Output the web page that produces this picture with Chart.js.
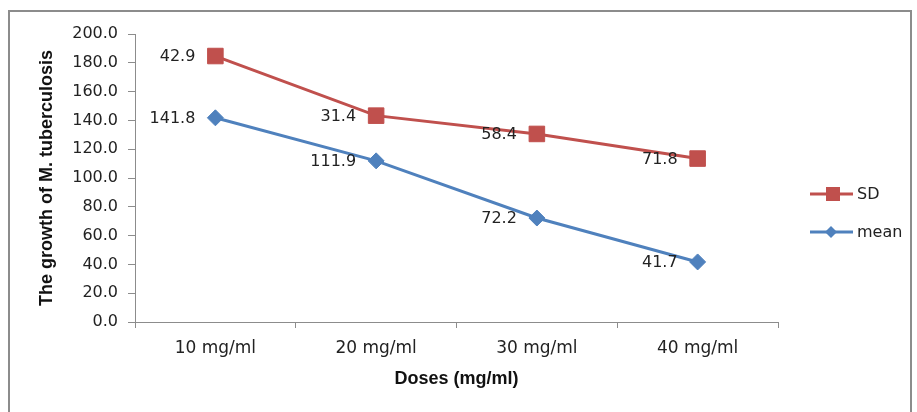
<!DOCTYPE html>
<html>
<head>
<meta charset="utf-8">
<script src="https://cdn.jsdelivr.net/npm/chart.js@4.4.1/dist/chart.umd.min.js"></script>
<style>
  html, body { margin: 0; padding: 0; background: #fff; }
  #wrap { position: relative; width: 917px; height: 412px; overflow: hidden; }
  #frame { position: absolute; left: 8px; top: 10px; width: 904px; height: 420px; border: 2px solid #8c8c8c; box-sizing: border-box; }
  canvas { position: absolute; left: 0; top: 0; }
</style>
</head>
<body>
<div id="wrap">
  <div id="frame"></div>
  <canvas id="chart" width="917" height="412"></canvas>
</div>
<script>
// 用量カテゴリと各系列の値
const doses = ['10 mg/ml', '20 mg/ml', '30 mg/ml', '40 mg/ml'];
const meanValues = [141.8, 111.9, 72.2, 41.7];
const sdValues = [42.9, 31.4, 58.4, 71.8];
const yTicks = [0, 20, 40, 60, 80, 100, 120, 140, 160, 180, 200];

const RED = '#C0504D';
const BLUE = '#4F81BD';
const NUM_FONT = 'DejaVu Sans, Verdana, sans-serif';
const TITLE_FONT = 'Liberation Sans, Arial, sans-serif';

// データラベル（点の左側）と凡例を描くプラグイン
const labelPlugin = {
    id: 'labels',
    afterDatasetsDraw(chart) {
        const ctx = chart.ctx;
        ctx.save();
        ctx.font = '16px ' + NUM_FONT;
        ctx.fillStyle = '#222';
        ctx.textAlign = 'right';
        ctx.textBaseline = 'middle';
        chart.data.datasets.forEach((ds, i) => {
            const meta = chart.getDatasetMeta(i);
            meta.data.forEach((pt, j) => {
                ctx.fillText(ds.data[j].toFixed(1), pt.x - 20, pt.y + 1);
            });
        });

        // 凡例
        const items = [
            { label: 'SD', color: RED, shape: 'rect', y: 194 },
            { label: 'mean', color: BLUE, shape: 'diamond', y: 232 }
        ];
        ctx.textAlign = 'left';
        items.forEach(it => {
            ctx.strokeStyle = it.color;
            ctx.lineWidth = 3;
            ctx.beginPath();
            ctx.moveTo(810, it.y);
            ctx.lineTo(853, it.y);
            ctx.stroke();
            ctx.fillStyle = it.color;
            if (it.shape === 'rect') {
                ctx.fillRect(826, it.y - 7, 14, 14);
            } else {
                ctx.beginPath();
                ctx.moveTo(831, it.y - 6);
                ctx.lineTo(837, it.y);
                ctx.lineTo(831, it.y + 6);
                ctx.lineTo(825, it.y);
                ctx.closePath();
                ctx.fill();
            }
            ctx.fillStyle = '#222';
            ctx.fillText(it.label, 857, it.y + 1);
        });
        ctx.restore();
    }
};

new Chart(document.getElementById('chart').getContext('2d'), {
    type: 'line',
    data: {
        labels: doses,
        datasets: [{
            label: 'mean',
            data: meanValues,
            borderColor: BLUE,
            backgroundColor: BLUE,
            borderWidth: 3,
            pointStyle: 'rectRot',
            pointRadius: 8,
            pointHoverRadius: 8,
            pointBorderWidth: 1,
            fill: false,
            tension: 0
        }, {
            label: 'SD',
            data: sdValues,
            borderColor: RED,
            backgroundColor: RED,
            borderWidth: 3,
            pointStyle: 'rect',
            pointRadius: 11,
            pointHoverRadius: 11,
            pointBorderWidth: 1,
            fill: false,
            tension: 0
        }]
    },
    options: {
        responsive: false,
        animation: false,
        layout: { padding: { left: 36, right: 139, top: 34, bottom: 22 } },
        plugins: {
            legend: { display: false },
            tooltip: { enabled: false }
        },
        scales: {
            x: {
                offset: true,
                grid: { offset: true, drawOnChartArea: false, drawTicks: true, tickLength: 6, color: '#8c8c8c' },
                border: { color: '#8c8c8c', width: 1 },
                ticks: { color: '#222', font: { family: NUM_FONT, size: 17 }, padding: 10 },
                title: { display: true, text: 'Doses (mg/ml)', color: '#111', font: { family: TITLE_FONT, size: 18, weight: 'bold' }, padding: 0 },
                afterFit(scale) { scale.height = 68; }
            },
            y: {
                stacked: true,
                min: 0,
                max: 200,
                afterBuildTicks(scale) { scale.ticks = yTicks.map(v => ({ value: v })); },
                grid: { drawOnChartArea: false, drawTicks: true, tickLength: 7, color: '#8c8c8c' },
                border: { color: '#8c8c8c', width: 1 },
                ticks: { color: '#222', font: { family: NUM_FONT, size: 16 }, padding: 10, callback: v => Number(v).toFixed(1) },
                title: { display: true, text: 'The growth of M. tuberculosis', color: '#111', font: { family: TITLE_FONT, size: 18, weight: 'bold' }, padding: 0 },
                afterFit(scale) { scale.width = 99; }
            }
        }
    },
    plugins: [labelPlugin]
});
</script>
</body>
</html>
